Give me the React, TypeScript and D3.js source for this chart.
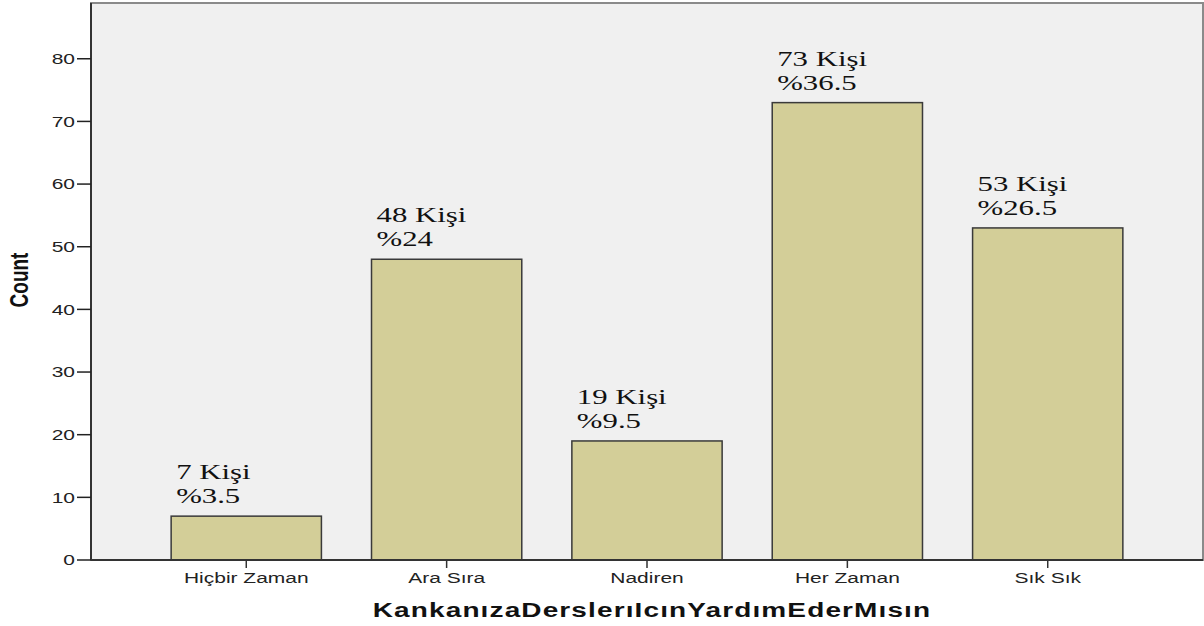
import React from "react";
import * as d3 from "d3";

const categories = ["Hiçbir Zaman", "Ara Sıra", "Nadiren", "Her Zaman", "Sık Sık"];
const counts = [7, 48, 19, 73, 53];
const percents = ["%3.5", "%24", "%9.5", "%36.5", "%26.5"];
const yTicks = [0, 10, 20, 30, 40, 50, 60, 70, 80];

const W = 1204;
const H = 626;
const margin = { top: 3, right: 1, bottom: 66, left: 91 };
// the source image is stretched sideways, so glyphs get widened too
const SX = 1.4;
const serif = "'Liberation Serif', 'Times New Roman', serif";
const sans = "'Liberation Sans', Arial, sans-serif";

export default function App() {
  const innerW = W - margin.left - margin.right;
  const innerH = H - margin.top - margin.bottom;

  const x = d3
    .scaleBand()
    .domain(categories)
    .range([0, innerW])
    .paddingInner(0.25)
    .paddingOuter(0.4);

  const y = d3.scaleLinear().domain([0, 88.9]).range([innerH, 0]);

  return (
    <svg
      width={W}
      height={H}
      style={{ position: "absolute", left: 0, top: 0, background: "#fff" }}
    >
      <g transform={`translate(${margin.left},${margin.top})`}>
        <rect x={0} y={0} width={innerW} height={innerH} fill="#f0f0f0" stroke="#8a8a8a" strokeWidth={2} />

        {categories.map((c, i) => {
          const bx = x(c)!;
          const by = y(counts[i]);
          return (
            <g key={c}>
              <rect
                x={bx}
                y={by}
                width={x.bandwidth()}
                height={innerH - by}
                fill="#d3ce98"
                stroke="#3a3a3a"
                strokeWidth={1.5}
              />
              <g transform={`translate(${bx + 5},${by - 37}) scale(${SX},1)`}>
                <text fontFamily={serif} fontSize={22} fill="#111">
                  {counts[i]} Kişi
                </text>
              </g>
              <g transform={`translate(${bx + 5},${by - 13}) scale(${SX},1)`}>
                <text fontFamily={serif} fontSize={22} fill="#111">
                  {percents[i]}
                </text>
              </g>
            </g>
          );
        })}

        {/* y axis */}
        <line x1={0} x2={0} y1={0} y2={innerH} stroke="#333" strokeWidth={2} />
        {yTicks.map((t) => (
          <g key={t} transform={`translate(0,${y(t)})`}>
            <line x1={-14} x2={0} stroke="#222" strokeWidth={1.5} />
            <g transform={`translate(-16,0) scale(${SX},1)`}>
              <text dy="0.36em" textAnchor="end" fontFamily={sans} fontSize={15} fill="#222">
                {t}
              </text>
            </g>
          </g>
        ))}

        {/* x axis */}
        <line x1={0} x2={innerW} y1={innerH} y2={innerH} stroke="#333" strokeWidth={2} />
        {categories.map((c) => {
          const cx = x(c)! + x.bandwidth() / 2;
          return (
            <g key={c} transform={`translate(${cx},${innerH})`}>
              <line y1={0} y2={8} stroke="#333" strokeWidth={1.5} />
              <g transform={`translate(0,23) scale(${SX},1)`}>
                <text textAnchor="middle" fontFamily={sans} fontSize={15} fill="#222">
                  {c}
                </text>
              </g>
            </g>
          );
        })}

        <g transform={`translate(${innerW / 2 + 5},${innerH + 57}) scale(${SX},1)`}>
          <text
            textAnchor="middle"
            fontFamily={sans}
            fontWeight="bold"
            fontSize={20}
            letterSpacing={0.8}
            fill="#111"
          >
            KankanızaDerslerıIcınYardımEderMısın
          </text>
        </g>
      </g>

      <g transform={`translate(28,280) scale(${SX},1) rotate(-90)`}>
        <text textAnchor="middle" fontFamily={sans} fontWeight="bold" fontSize={19} fill="#111">
          Count
        </text>
      </g>
    </svg>
  );
}
